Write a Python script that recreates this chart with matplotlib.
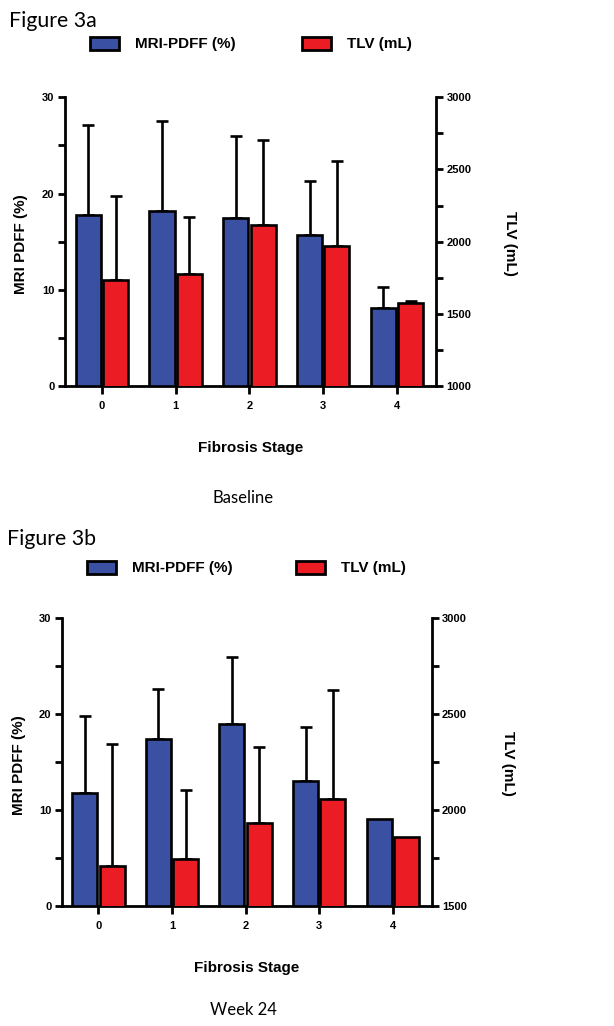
import numpy as np
import matplotlib
matplotlib.use("Agg")
import matplotlib.pyplot as plt
from matplotlib.ticker import MultipleLocator, FixedLocator
from matplotlib.patches import Patch

# ---------------- data ----------------
stages = ['0', '1', '2', '3', '4']

base_pdff = [17.8, 18.2, 17.5, 15.7, 8.1]
base_pdff_sd = [9.3, 9.3, 8.5, 5.6, 2.2]
base_tlv = [1737, 1773, 2115, 1972, 1573]
base_tlv_sd = [577, 398, 587, 584, 18]

wk24_pdff = [11.8, 17.4, 19.0, 13.0, 9.1]
wk24_pdff_sd = [8.0, 5.2, 7.0, 5.7, np.nan]
wk24_tlv = [1708, 1747, 1931, 2056, 1860]
wk24_tlv_sd = [635, 356, 400, 572, np.nan]

panel_titles = ['Figure 3a', 'Figure 3b']
panel_captions = ['Baseline', 'Week 24']
legend_labels = ['MRI-PDFF (%)', 'TLV (mL)']
left_label = 'MRI PDFF (%)'
right_label = 'TLV (mL)'
x_label = 'Fibrosis Stage'
tlv_limits = [(1000, 3000), (1500, 3000)]
tlv_minor = [[1250, 1750, 2250, 2750], [1750, 2250, 2750]]

BLUE = '#3a51a3'
RED = '#ec1c24'
SANS = 'Liberation Sans'
TITLE_FONT = 'Lato'

W, H = 614, 1026
fig = plt.figure(figsize=(W / 100, H / 100), dpi=100)


def panel(rect, pdff, pdff_sd, tlv, tlv_sd, tlim, tminor, xl_coords, yl_coords, yr_coords):
    ax = fig.add_axes(rect)
    ax2 = ax.twinx()
    x = np.arange(len(stages))
    off, bw = 0.185, 0.34
    ax.bar(x - off, pdff, width=bw, color=BLUE, edgecolor='black', linewidth=1.9, zorder=3)
    ax2.bar(x + off, tlv, width=bw, color=RED, edgecolor='black', linewidth=1.9, zorder=3)
    psd = np.array(pdff_sd, dtype=float)
    tsd = np.array(tlv_sd, dtype=float)
    m = ~np.isnan(psd)
    ax.errorbar((x - off)[m], np.array(pdff)[m], yerr=[np.zeros(m.sum()), psd[m]],
                fmt='none', ecolor='black', elinewidth=1.9, capsize=4.3, capthick=1.9, zorder=2)
    m2 = ~np.isnan(tsd)
    ax2.errorbar((x + off)[m2], np.array(tlv)[m2], yerr=[np.zeros(m2.sum()), tsd[m2]],
                 fmt='none', ecolor='black', elinewidth=1.9, capsize=4.3, capthick=1.9, zorder=2)

    ax.set_xlim(-0.5, 4.53)
    ax.set_ylim(0, 30)
    ax2.set_ylim(*tlim)

    ax.set_xticks(x)
    ax.set_xticklabels(stages)
    ax.yaxis.set_major_locator(MultipleLocator(10))
    ax.yaxis.set_minor_locator(MultipleLocator(5))
    ax2.yaxis.set_major_locator(MultipleLocator(500))
    ax2.yaxis.set_minor_locator(FixedLocator(tminor))

    for a in (ax, ax2):
        a.spines['top'].set_visible(False)
        for s in a.spines.values():
            s.set_linewidth(2.0)
    ax.spines['right'].set_visible(False)
    ax2.spines['left'].set_visible(False)
    ax2.spines['bottom'].set_visible(False)

    ax.tick_params(axis='y', which='both', length=5, width=2.0, pad=2.5,
                   labelsize=8)
    ax.tick_params(axis='x', length=6, width=2.0, pad=5, labelsize=8)
    ax2.tick_params(axis='y', which='both', length=5, width=2.0, pad=2.5,
                    labelsize=8)
    for lab in ax.get_xticklabels() + ax.get_yticklabels() + ax2.get_yticklabels():
        lab.set_fontfamily(SANS)
        lab.set_fontweight('bold')

    ax.set_xlabel(x_label, fontsize=11, fontweight='bold', family=SANS, va='center')
    ax.xaxis.set_label_coords(*xl_coords)
    ax.set_ylabel(left_label, fontsize=11, fontweight='bold', family=SANS, va='center')
    ax.yaxis.set_label_coords(*yl_coords)
    ax2.set_ylabel(right_label, fontsize=11, fontweight='bold', family=SANS,
                   rotation=270, va='center')
    ax2.yaxis.set_label_coords(*yr_coords)
    return ax, ax2


# panel a
panel([65 / W, 1 - 386 / H, (436 - 65) / W, (386 - 97.3) / H],
      base_pdff, base_pdff_sd, base_tlv, base_tlv_sd, tlv_limits[0], tlv_minor[0],
      (0.5, -0.2145), (-0.1186, 0.49), (1.199, 0.495))
# panel b
panel([61.7 / W, 1 - 906 / H, (431.7 - 61.7) / W, (906 - 618.3) / H],
      wk24_pdff, wk24_pdff_sd, wk24_tlv, wk24_tlv_sd, tlv_limits[1], tlv_minor[1],
      (0.5, -0.2155), (-0.1165, 0.49), (1.206, 0.494))

# titles and captions
fig.text(9.3 / W, 1 - 26.7 / H, panel_titles[0], fontsize=15.3, family=TITLE_FONT,
         va='baseline', ha='left')
fig.text(6.7 / W, 1 - 545.3 / H, panel_titles[1], fontsize=15.3, family=TITLE_FONT,
         va='baseline', ha='left')
fig.text(243 / W, 1 - 503.3 / H, panel_captions[0], fontsize=12, family=TITLE_FONT,
         va='baseline', ha='center')
fig.text(243 / W, 1 - 1015 / H, panel_captions[1], fontsize=12, family=TITLE_FONT,
         va='baseline', ha='center')

# legends
def add_leg(xpos, ypos, color, label):
    h = Patch(facecolor=color, edgecolor='black', linewidth=2.0)
    fig.legend([h], [label], loc='center left', bbox_to_anchor=(xpos, ypos),
               frameon=False, borderpad=0, borderaxespad=0, handlelength=1.9,
               handleheight=0.95, handletextpad=1.05,
               prop={'family': SANS, 'weight': 'bold', 'size': 11})

add_leg(90 / W, 1 - 44 / H, BLUE, legend_labels[0])
add_leg(302 / W, 1 - 44 / H, RED, legend_labels[1])
add_leg(87 / W, 1 - 568 / H, BLUE, legend_labels[0])
add_leg(296 / W, 1 - 568 / H, RED, legend_labels[1])

fig.savefig('out.png', dpi=100, facecolor='white')
